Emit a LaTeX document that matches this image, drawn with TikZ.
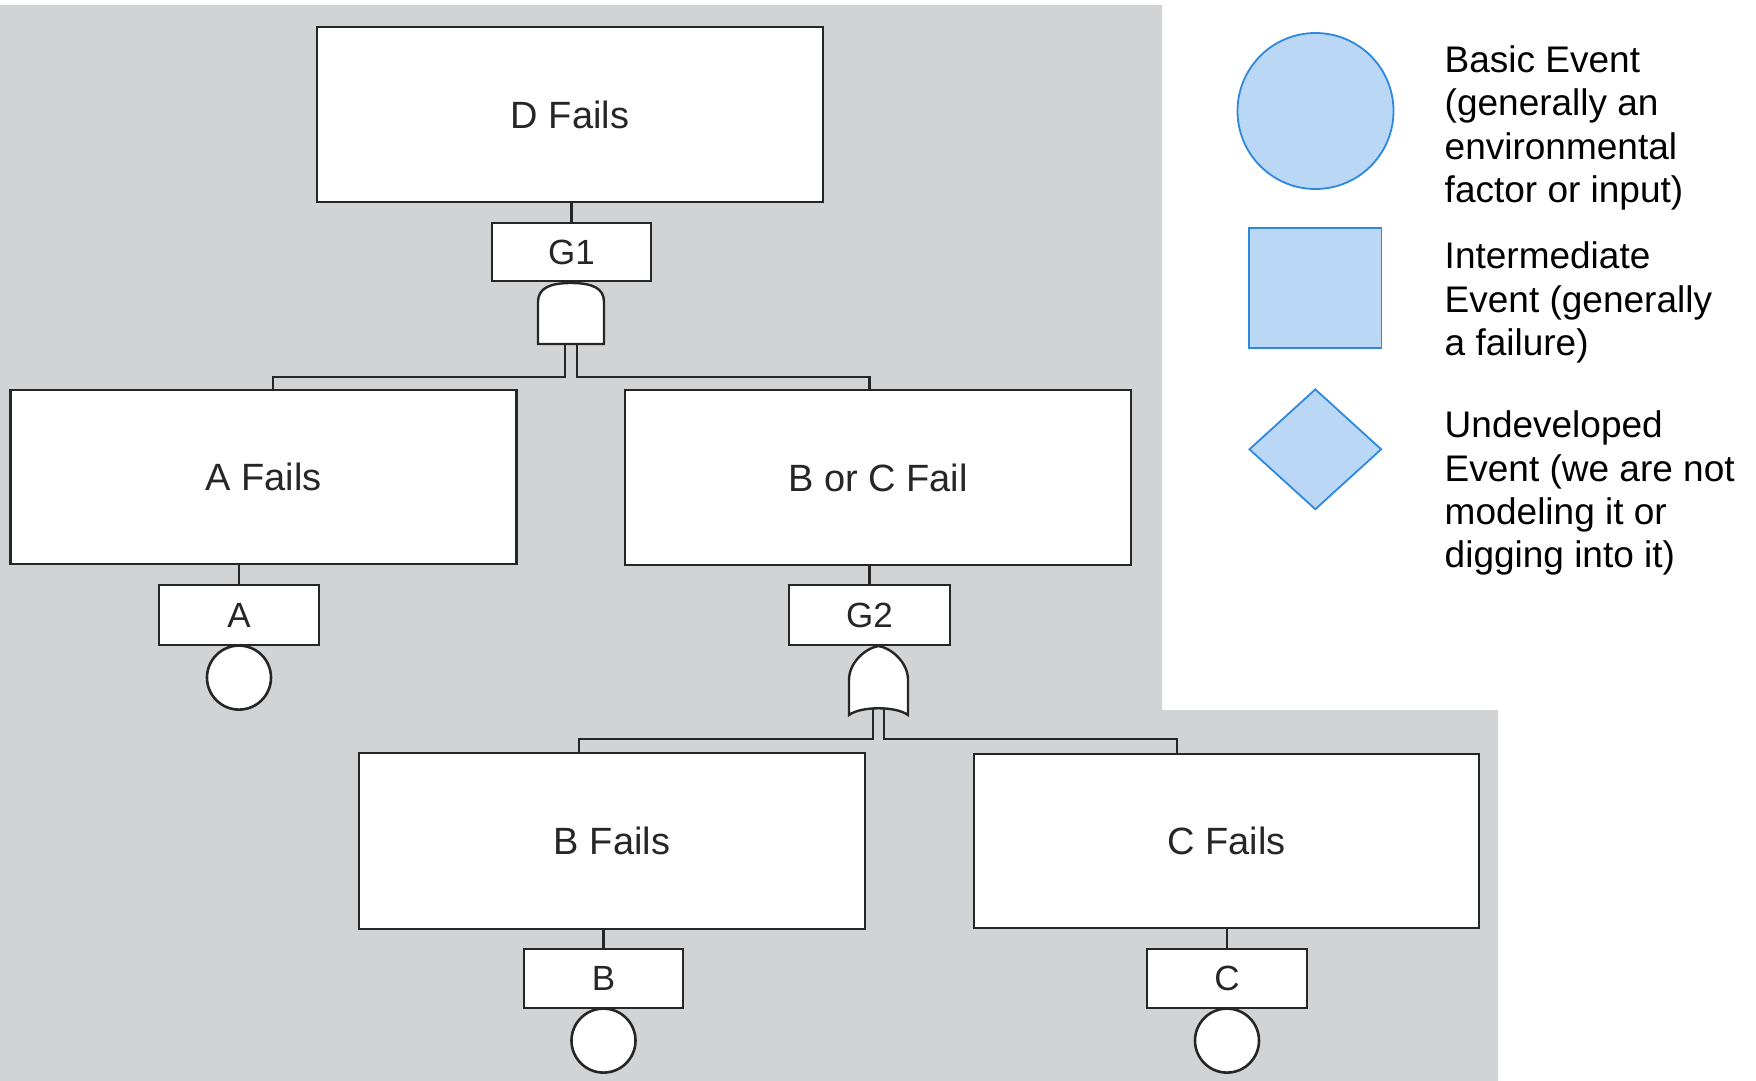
\documentclass[tikz,border=0pt]{standalone}
\usepackage{fontspec}
\setmainfont{Liberation Sans}
\usetikzlibrary{positioning,shapes.geometric}
\definecolor{panelgray}{RGB}{209,211,212}
\definecolor{inkgray}{RGB}{38,38,38}
\definecolor{keyblue}{RGB}{186,215,245}
\definecolor{keyedge}{RGB}{45,136,222}

\begin{document}
\begin{tikzpicture}[x=1pt,y=-1pt,
  event/.style={draw=inkgray,fill=white,line width=2.6pt,minimum width=506pt,minimum height=175pt,inner sep=0pt,text=inkgray,font=\fontsize{38}{40}\selectfont},
  gatebox/.style={event,minimum width=159pt,minimum height=58pt,font=\fontsize{35}{38}\selectfont},
  basic/.style={circle,draw=inkgray,fill=white,line width=2.6pt,minimum size=64pt,inner sep=0pt},
  wire/.style={draw=inkgray,line width=2.4pt},
  keyshape/.style={draw=keyedge,fill=keyblue,line width=1.8pt,inner sep=0pt},
  keytext/.style={anchor=north west,align=left,inner sep=0pt,font=\fontsize{37}{43.3}\selectfont}]
\fill[white](0,0)rectangle(1756,1081);\useasboundingbox(0,0)rectangle(1756,1081);
\fill[panelgray](0,5)--(1162,5)--(1162,710)--(1498,710)--(1498,1081)--(0,1081)--cycle;
% events and gate labels
\node[event](dfail)at(570,114.5){D Fails};
\node[gatebox](g1)at(571.5,252){G1};
\node[event,minimum height=174pt](afail)at(263.5,477){A Fails};
\node[event](bcfail)at(878,477.5){B or C Fail};
\node[gatebox,minimum width=160pt,minimum height=60pt](a)at(239,615){A};
\node[gatebox,minimum width=161pt,minimum height=60pt](g2)at(869.5,615){G2};
\node[event,minimum height=176pt](bfail)at(612,841){B Fails};
\node[event,minimum width=505pt,minimum height=174pt](cfail)at(1226.5,841){C Fails};
\node[gatebox,minimum height=59pt](b)at(603.5,978.5){B};
\node[gatebox,minimum width=160pt,minimum height=59pt](c)at(1227,978.5){C};
\node[basic,below=-2pt of a](abasic){};
\node[basic,below=-2pt of b](bbasic){};
\node[basic,below=-2pt of c](cbasic){};
% AND gate under G1, OR gate under G2
\draw[wire,fill=white](538,344)--(538,302).. controls (538,288) and (550,283) ..(571,283).. controls (592,283) and (604,288) ..(604,302)--(604,344)--cycle;
\coordinate(g1out)at(571,344);
\draw[wire,fill=white](849,715)--(849,680).. controls (849,662) and (866,648) ..(878.5,646).. controls (891,648) and (908,662) ..(908,680)--(908,715).. controls (896,706) and (861,706) ..(849,715)--cycle;
\coordinate(g2out)at(878.5,709);
% connectors
\draw[wire](g1.north|-dfail.south)--(g1.north);
\draw[wire](g2.north|-bcfail.south)--(g2.north);
\draw[wire](a.north|-afail.south)--(a.north);
\draw[wire](b.north|-bfail.south)--(b.north);
\draw[wire](c.north|-cfail.south)--(c.north);
\draw[wire]([xshift=-6pt]g1out)--++(0,33)-|([xshift=9.5pt]afail.north);
\draw[wire]([xshift=6pt]g1out)--++(0,33)-|(g2.north|-bcfail.north);
\draw[wire]([xshift=-5.5pt]g2out)--++(0,30)-|([xshift=-33pt]bfail.north);
\draw[wire]([xshift=5.5pt]g2out)--++(0,30)-|([xshift=-49.5pt]cfail.north);
% key
\node[keyshape,circle,minimum size=156pt](keybasic)at(1315.5,111){};
\node[keyshape,minimum width=132.5pt,minimum height=120.5pt](keyinter)at(1315.3,288){};
\node[keyshape,diamond,minimum width=132.5pt,minimum height=120.6pt](keyundev)at(1315.3,449.3){};
\node[keytext](basictext)at(1444.5,45.4){Basic Event\\(generally an\\environmental\\factor or input)};
\node[keytext](intertext)at(1444.5,241.9){Intermediate\\Event (generally\\a failure)};
\node[keytext](undevtext)at(1444.5,410.8){Undeveloped\\Event (we are not\\modeling it or\\digging into it)};
\end{tikzpicture}
\end{document}
